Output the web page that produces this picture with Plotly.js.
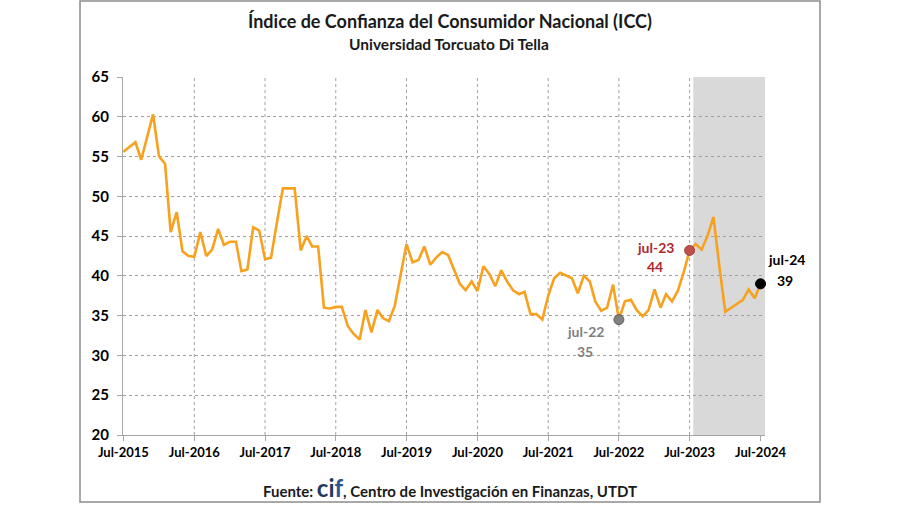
<!DOCTYPE html>
<html>
<head>
<meta charset="utf-8">
<script src="https://cdn.plot.ly/plotly-3.0.1.min.js"></script>
<style>
  html, body { margin: 0; padding: 0; background: #ffffff; }
  #chart { width: 900px; height: 505px; }
</style>
</head>
<body>
<div id="chart"></div>
<script>
// ICC monthly values, Jul-2015 .. Jul-2024
const icc2015 = [55.6, 56.2, 56.8, 54.6, 57.4, 60.3];                                   // Jul-Dec
const icc2016 = [55.0, 54.1, 45.5, 48.0, 43.1, 42.5, 42.4, 45.5, 42.5, 43.3, 45.9, 43.9];
const icc2017 = [44.3, 44.3, 40.6, 40.8, 46.1, 45.7, 42.1, 42.3, 46.8, 51.0, 51.0, 51.0];
const icc2018 = [43.2, 45.0, 43.7, 43.7, 36.0, 35.9, 36.1, 36.1, 33.7, 32.7, 32.0, 35.7];
const icc2019 = [32.9, 35.7, 34.7, 34.3, 36.2, 40.0, 44.0, 41.7, 42.0, 43.7, 41.4, 42.3];
const icc2020 = [43.0, 42.6, 40.9, 39.0, 38.2, 39.3, 38.1, 41.2, 40.2, 38.7, 40.7, 39.3];
const icc2021 = [38.2, 37.7, 38.0, 35.2, 35.2, 34.5, 37.5, 39.7, 40.4, 40.1, 39.7, 37.8];
const icc2022 = [40.0, 39.3, 36.8, 35.6, 36.0, 38.9, 34.5, 36.8, 37.0, 35.7, 34.9, 35.7];
const icc2023 = [38.3, 36.0, 37.7, 36.8, 38.1, 40.5, 43.2, 44.0, 43.3, 45.0, 47.4, 41.3];
const icc2024 = [35.5, 36.0, 36.5, 37.0, 38.3, 37.2, 39.0];                               // Jan-Jul

const tickDates = ['2015-07-01','2016-07-01','2017-07-01','2018-07-01','2019-07-01',
                   '2020-07-01','2021-07-01','2022-07-01','2023-07-01','2024-07-01'];
const tickLabels = ['Jul-2015','Jul-2016','Jul-2017','Jul-2018','Jul-2019',
                    'Jul-2020','Jul-2021','Jul-2022','Jul-2023','Jul-2024'];

// highlighted points
const hlDates  = ['2022-07-01', '2023-07-01', '2024-07-01'];
const hlValues = [icc2022[6], icc2023[6], icc2024[6]];
const hlColors = ['#808080', '#C0504D', '#000000'];

// build monthly x dates
function pad(n){ return (n < 10 ? '0' : '') + n; }
const years = [
  {y: 2015, m0: 7, v: icc2015}, {y: 2016, m0: 1, v: icc2016}, {y: 2017, m0: 1, v: icc2017},
  {y: 2018, m0: 1, v: icc2018}, {y: 2019, m0: 1, v: icc2019}, {y: 2020, m0: 1, v: icc2020},
  {y: 2021, m0: 1, v: icc2021}, {y: 2022, m0: 1, v: icc2022}, {y: 2023, m0: 1, v: icc2023},
  {y: 2024, m0: 1, v: icc2024}
];
const xs = [], ys = [];
years.forEach(function(o){
  o.v.forEach(function(val, i){
    xs.push(o.y + '-' + pad(o.m0 + i) + '-01');
    ys.push(val);
  });
});

const FONT = 'Lato, "Open Sans", "DejaVu Sans", sans-serif';

const traces = [
  {
    x: xs, y: ys, type: 'scatter', mode: 'lines',
    line: {color: '#F7A11E', width: 2.6},
    hoverinfo: 'x+y', showlegend: false
  },
  {
    x: hlDates, y: hlValues, type: 'scatter', mode: 'markers',
    marker: {color: hlColors, size: 10, line: {color: ['#606060', '#a04040', '#000000'], width: 1}},
    cliponaxis: false, showlegend: false
  }
];

function px2x(px){ return (px - 123) / 642; }
function py2y(py){ return (435 - py) / 358; }

const annotations = [
  {text: '<b>Índice de Confianza del Consumidor Nacional (ICC)</b>', xref: 'paper', yref: 'paper',
   x: px2x(450), y: py2y(21), xanchor: 'center', yanchor: 'middle', showarrow: false,
   font: {family: FONT, size: 18, color: '#1a1a1a'}},
  {text: '<b>Universidad Torcuato Di Tella</b>', xref: 'paper', yref: 'paper',
   x: px2x(449), y: py2y(44), xanchor: 'center', yanchor: 'middle', showarrow: false,
   font: {family: FONT, size: 15.5, color: '#1a1a1a'}},
  {text: '<b>Fuente: <span style="font-size:24px;color:#1F3864">ci</span><span style="font-size:24px;color:#2E5597">f</span>, Centro de Investigación en Finanzas, UTDT</b>',
   xref: 'paper', yref: 'paper', x: px2x(450), y: py2y(487), xanchor: 'center', yanchor: 'middle',
   showarrow: false, font: {family: FONT, size: 15, color: '#1a1a1a'}},
  {text: '<b>jul-22</b>', xref: 'paper', yref: 'paper', x: px2x(585), y: py2y(331),
   xanchor: 'center', yanchor: 'middle', showarrow: false, font: {family: FONT, size: 14, color: '#7f7f7f'}},
  {text: '<b>35</b>', xref: 'paper', yref: 'paper', x: px2x(585), y: py2y(351),
   xanchor: 'center', yanchor: 'middle', showarrow: false, font: {family: FONT, size: 14, color: '#7f7f7f'}},
  {text: '<b>jul-23</b>', xref: 'paper', yref: 'paper', x: px2x(655), y: py2y(247),
   xanchor: 'center', yanchor: 'middle', showarrow: false, font: {family: FONT, size: 14, color: '#B0282E'}},
  {text: '<b>44</b>', xref: 'paper', yref: 'paper', x: px2x(655), y: py2y(266),
   xanchor: 'center', yanchor: 'middle', showarrow: false, font: {family: FONT, size: 14, color: '#B0282E'}},
  {text: '<b>jul-24</b>', xref: 'paper', yref: 'paper', x: px2x(766), y: py2y(259),
   xanchor: 'left', yanchor: 'middle', showarrow: false, font: {family: FONT, size: 14, color: '#000000'}},
  {text: '<b>39</b>', xref: 'paper', yref: 'paper', x: px2x(785), y: py2y(280),
   xanchor: 'center', yanchor: 'middle', showarrow: false, font: {family: FONT, size: 14, color: '#000000'}}
];

// vertical dotted gridlines at each July tick except the last (hidden by the shaded area)
const shapes = [];
tickDates.slice(1, tickDates.length - 1).forEach(function(d){
  shapes.push({type: 'line', xref: 'x', yref: 'paper', x0: d, x1: d, y0: 0, y1: 1,
               line: {color: '#a0a0a0', width: 1, dash: 'dot'}, layer: 'below'});
});
shapes.push({type: 'rect', xref: 'x', yref: 'paper', x0: '2023-07-20', x1: '2024-07-24', y0: 0, y1: 1,
   fillcolor: '#d9d9d9', line: {width: 0}, layer: 'between'});
shapes.push({type: 'rect', xref: 'paper', yref: 'paper', x0: px2x(80), x1: px2x(820), y0: py2y(502), y1: py2y(1),
   fillcolor: 'rgba(0,0,0,0)', line: {color: '#8c8c8c', width: 1.5}, layer: 'below'});

const layout = {
  width: 900, height: 505,
  margin: {l: 123, r: 135, t: 77, b: 70, pad: 0},
  paper_bgcolor: '#ffffff', plot_bgcolor: '#ffffff',
  showlegend: false,
  font: {family: FONT, color: '#000000'},
  xaxis: {
    type: 'date', range: ['2015-06-29', '2024-07-24'],
    tickmode: 'array', tickvals: tickDates, ticktext: tickLabels,
    showgrid: false,
    showline: true, linecolor: '#a6a6a6', linewidth: 1,
    ticks: 'outside', ticklen: 5, tickcolor: '#a6a6a6',
    tickfont: {family: FONT, size: 13, color: '#000000', weight: 'bold'},
    zeroline: false, fixedrange: true
  },
  yaxis: {
    range: [20, 65], tickmode: 'linear', tick0: 20, dtick: 5,
    showgrid: true, gridcolor: '#a0a0a0', griddash: 'dot', gridwidth: 1,
    showline: true, linecolor: '#a6a6a6', linewidth: 1,
    ticks: 'outside', ticklen: 5, tickcolor: '#a6a6a6', ticklabelstandoff: 5,
    tickfont: {family: FONT, size: 15, color: '#000000', weight: 'bold'},
    zeroline: false, fixedrange: true
  },
  shapes: shapes,
  annotations: annotations
};

Plotly.newPlot('chart', traces, layout, {displayModeBar: false, staticPlot: true});
</script>
</body>
</html>
